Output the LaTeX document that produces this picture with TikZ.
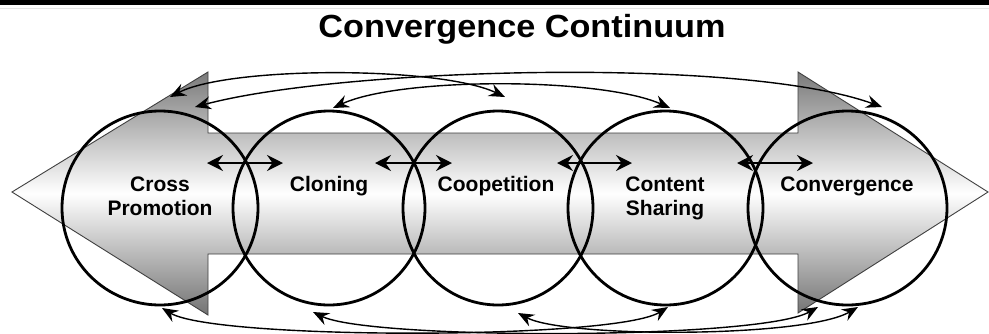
\documentclass[tikz,border=0pt]{standalone}
\usepackage{fontspec}
\setmainfont{Liberation Sans}
\newfontfamily\titlefam[FakeStretch=1.07]{Liberation Sans}
\usetikzlibrary{arrows.meta,shapes.geometric}
\begin{document}
\begin{tikzpicture}[x=1pt,y=-1pt,
  lbl/.style={font=\fontsize{21}{24}\selectfont\bfseries, align=center, anchor=north, inner sep=0pt},
  ring/.style={draw=black, line width=2.8pt, ellipse, inner sep=0pt, minimum height=194pt},
  dbl/.style={{Stealth[length=16pt,width=16pt,inset=5.5pt]}-{Stealth[length=16pt,width=16pt,inset=5.5pt]}, line width=2pt},
  link/.style={{Stealth[length=16pt,width=13pt,inset=5.5pt]}-{Stealth[length=16pt,width=13pt,inset=5.5pt]}, line width=1.4pt},
  bigarrow/.style={draw=black!75, line width=0.9pt, top color=black!52, bottom color=black!55, middle color=white}
]
\useasboundingbox (0,0) rectangle (989,333);
\fill[white] (0,0) rectangle (989,333);
\fill[black] (0,0) rectangle (989,4.5);
\draw[black!10, line width=1pt] (0,8.5) -- (989,8.5);
\node[font=\titlefam\fontsize{32}{36}\selectfont\bfseries, anchor=base, inner sep=0pt] (title) at (522,37) {Convergence Continuum};

% double-headed block arrow
\path[bigarrow]
 (12,192) -- (208,72) -- (208,133) -- (798,133) -- (798,72) -- (988,192)
 -- (798,313) -- (798,254) -- (208,254) -- (208,315) -- cycle;

% circles
\node[ring, minimum width=196pt] (c1) at (160,208) {};
\node[ring, minimum width=192pt] (c2) at (329,208) {};
\node[ring, minimum width=190pt] (c3) at (498,208) {};
\node[ring, minimum width=195pt] (c4) at (665.5,208) {};
\node[ring, minimum width=199pt] (c5) at (847.5,208) {};

% labels
\node[lbl] (l1) at (160,176.5) {Cross\\Promotion};
\node[lbl] (l2) at (329,176.5) {Cloning};
\node[lbl] (l3) at (496,176.5) {Coopetition};
\node[lbl] (l4) at (665,176.5) {Content\\Sharing};
\node[lbl] (l5) at (847,176.5) {Convergence};

% adjacent double arrows
\coordinate (d1a) at (207,163); \coordinate (d1b) at (283,163);
\coordinate (d2a) at (375,163); \coordinate (d2b) at (452,163);
\coordinate (d3a) at (557,163); \coordinate (d3b) at (632,163);
\coordinate (d4a) at (737,163); \coordinate (d4b) at (813,163);
\draw[dbl] (d1a) -- (d1b);
\draw[dbl] (d2a) -- (d2b);
\draw[dbl] (d3a) -- (d3b);
\draw[dbl] (d4a) -- (d4b);

% upper links
\coordinate (u1a) at (170,97);  \coordinate (u1b) at (505,97);
\coordinate (u2a) at (195,107); \coordinate (u2b) at (882,107);
\coordinate (u3a) at (333,108); \coordinate (u3b) at (670,108);
\draw[link] (u1a) .. controls (230,66) and (440,66) .. (u1b);
\draw[link] (u2a) .. controls (340,68) and (741,56) .. (u2b);
\draw[link] (u3a) .. controls (400,77) and (600,77) .. (u3b);

% lower links
\coordinate (b1a) at (162,308); \coordinate (b1b) at (668,307);
\coordinate (b2a) at (313,312); \coordinate (b2b) at (818,307);
\coordinate (b3a) at (518,313); \coordinate (b3b) at (858,307);
\draw[link] (b1a) .. controls (215,340) and (615,340) .. (b1b);
\draw[link] (b2a) .. controls (370,340) and (760,340) .. (b2b);
\draw[link] (b3a) .. controls (565,338) and (805,338) .. (b3b);
\end{tikzpicture}
\end{document}
